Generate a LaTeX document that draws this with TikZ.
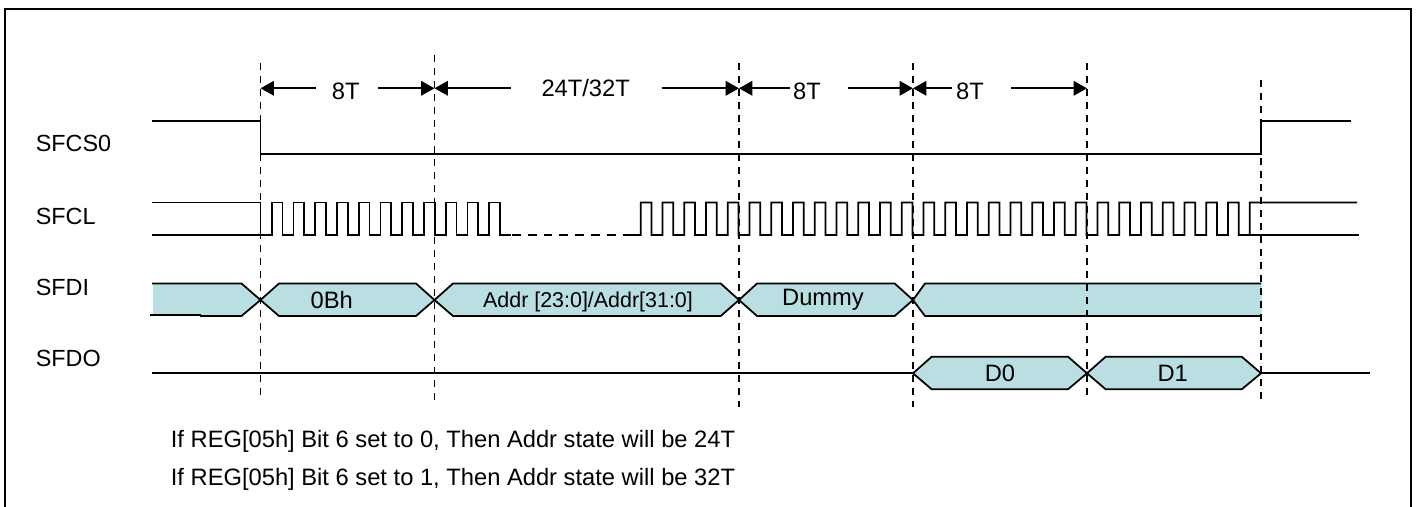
\documentclass[tikz,border=0pt]{standalone}
\usepackage{fontspec}
\setmainfont{Liberation Sans}
\usetikzlibrary{arrows.meta}
\definecolor{busfill}{HTML}{B9DFE3}

\begin{document}
\begin{tikzpicture}[x=0.02cm,y=-0.02cm,line width=1pt,
		wave/.style={line join=miter},
		bus/.style={draw,fill=busfill,line join=miter},
		guide/.style={dash pattern=on 4pt off 3.4pt,line width=1pt},
		span/.style={-{Triangle[length=7.6pt,width=8.2pt]},line width=1.2pt},
		lbl/.style={inner sep=0pt,anchor=base west,font=\fontsize{13.3}{16}\selectfont},
		val/.style={inner sep=0pt,anchor=base,font=\fontsize{13.5}{16}\selectfont},
		note/.style={inner sep=0pt,anchor=base west,font=\fontsize{13.5}{16}\selectfont}]
	\useasboundingbox (0,0) rectangle (1418,507);
	% outer frame, open at the bottom
	\draw[line width=1.2pt] (5,507) -- (5,9) -- (1411,9) -- (1411,507);
	% signal names
	\node[lbl] (sfcs) at (35,151.7) {SFCS0};
	\node[lbl] (sfcl) at (35,224) {SFCL};
	\node[lbl] (sfdi) at (35,295.7) {SFDI};
	\node[lbl] (sfdo) at (35,366.7) {SFDO};
	% chip select
	\draw[wave] (152,121) -- (260.5,121) -- (260.5,154) -- (1261,154) -- (1261,121) -- (1351,121);
	% clock
	\draw[wave] (152,202.5) -- (260.5,202.5) -- (260.5,235);
	\draw[wave] (152,235) -- (271.7,235) \foreach \k in {0,...,10} {-- ++(0,-32.5) -- ++(10.9,0) -- ++(0,32.5) -- ++(10.85,0)};
	\draw[dash pattern=on 5pt off 4pt] (512,235) -- (630,235);
	\draw[wave] (630,235) -- (640.7,235) \foreach \k in {0,...,27} {-- ++(0,-32.5) -- ++(10.9,0) -- ++(0,32.5) -- ++(10.85,0)} -- ++(0,-32.5) -- (1357,202.5);
	\draw (1249,235) -- (1359,235);
	% input data
	\fill[busfill] (153,284) -- (241.5,284) -- (260.5,300) -- (241.5,316) -- (153,316) -- cycle;
	\draw[wave] (152,283.5) -- (241.5,283.5) -- (260.5,300) -- (241.5,316) -- (200,316);
	\draw (150,315.3) -- (201,315.3);
	\path[bus] (279,283.5) -- (416,283.5) -- (434.5,300) -- (416,316) -- (279,316) -- (260.5,300) -- cycle;
	\path[bus] (453,283.5) -- (720.7,283.5) -- (739,300) -- (720.7,316) -- (453,316) -- (434.5,300) -- cycle;
	\path[bus] (757,283.5) -- (894.7,283.5) -- (913,300) -- (894.7,316) -- (757,316) -- (739,300) -- cycle;
	\fill[busfill] (925,283.5) -- (1261.5,283.5) -- (1261.5,316) -- (925,316) -- (913,300) -- cycle;
	\draw[wave] (1261,283.5) -- (925,283.5) -- (913,300) -- (925,316) -- (1261,316);
	\node[val] (cmd) at (331.7,308) {0Bh};
	\node[val,font=\fontsize{12.2}{15}\selectfont] (addr) at (588,307) {Addr [23:0]/Addr[31:0]};
	\node[val] (dummy) at (823,305.7) {Dummy};
	% output data
	\draw (152,373.3) -- (913,373.3);
	\path[bus] (931.7,356.7) -- (1068,356.7) -- (1087,373.3) -- (1068,389.3) -- (931.7,389.3) -- (913,373.3) -- cycle;
	\path[bus] (1105.7,356.7) -- (1241.7,356.7) -- (1261,373.3) -- (1241.7,389.3) -- (1105.7,389.3) -- (1087,373.3) -- cycle;
	\draw (1261,373.3) -- (1370,373.3);
	\node[val] (dzero) at (1000,381) {D0};
	\node[val] (done) at (1172.7,381) {D1};
	% state boundaries
	\draw[guide] (260.5,63) -- (260.5,397);
	\draw[guide] (434.5,55) -- (434.5,402);
	\draw[guide] (739,63) -- (739,407);
	\draw[guide] (913,63) -- (913,407);
	\draw[guide] (1087,63) -- (1087,397);
	\draw[guide] (1261,80) -- (1261,400);
	% state lengths
	\coordinate (ma) at (260.5,88.3);
	\coordinate (mb) at (434.5,88.3);
	\coordinate (mc) at (739,88.3);
	\coordinate (md) at (913,88.3);
	\coordinate (me) at (1087,88.3);
	\coordinate (aa) at (316,88.3);
	\coordinate (ab) at (378,88.3);
	\coordinate (ac) at (511,88.3);
	\coordinate (ad) at (661.7,88.3);
	\coordinate (ae) at (789.7,88.3);
	\coordinate (af) at (848,88.3);
	\coordinate (ag) at (952,88.3);
	\coordinate (ah) at (1011,88.3);
	\draw[span] (aa) -- (ma);
	\draw[span] (ab) -- (mb);
	\draw[span] (ac) -- (mb);
	\draw[span] (ad) -- (mc);
	\draw[span] (ae) -- (mc);
	\draw[span] (af) -- (md);
	\draw[span] (ag) -- (md);
	\draw[span] (ah) -- (me);
	\node[val] (ta) at (345.7,99.3) {8T};
	\node[val] (tb) at (585.7,96) {24T/32T};
	\node[val] (tc) at (807,99.3) {8T};
	\node[val] (td) at (970,99.3) {8T};
	% notes
	\node[note] (nzero) at (170,447) {If REG[05h] Bit 6 set to 0, Then Addr state will be 24T};
	\node[note] (none) at (170,485) {If REG[05h] Bit 6 set to 1, Then Addr state will be 32T};
\end{tikzpicture}
\end{document}
